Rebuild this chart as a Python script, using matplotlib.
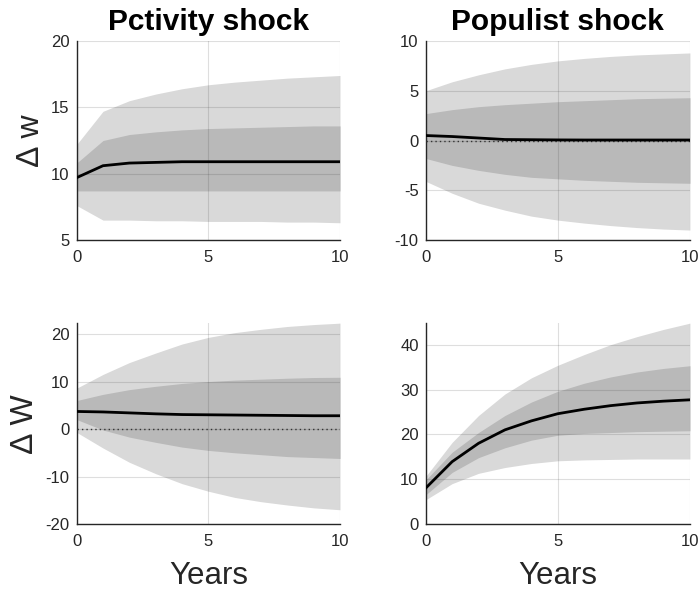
import matplotlib
matplotlib.use("Agg")
from matplotlib import pyplot as plt
import numpy as np

plt.rcParams['font.family'] = ['Liberation Sans', 'DejaVu Sans']
plt.rcParams['axes.unicode_minus'] = False

# horizon in years
years = np.arange(0, 11)

# productivity shock -> delta w
tl_med = [9.7, 10.6, 10.8, 10.85, 10.9, 10.9, 10.9, 10.9, 10.9, 10.9, 10.9]
tl_in_lo = [8.7, 8.7, 8.7, 8.7, 8.7, 8.7, 8.7, 8.7, 8.7, 8.7, 8.7]
tl_in_hi = [10.8, 12.5, 12.95, 13.15, 13.3, 13.4, 13.45, 13.5, 13.55, 13.6, 13.6]
tl_out_lo = [7.6, 6.5, 6.5, 6.45, 6.45, 6.4, 6.4, 6.4, 6.35, 6.35, 6.3]
tl_out_hi = [12.2, 14.7, 15.5, 16.0, 16.4, 16.7, 16.9, 17.05, 17.2, 17.3, 17.4]

# populist shock -> delta w
tr_med = [0.5, 0.4, 0.25, 0.1, 0.08, 0.06, 0.05, 0.05, 0.05, 0.05, 0.05]
tr_in_lo = [-1.8, -2.5, -3.0, -3.4, -3.7, -3.85, -4.0, -4.1, -4.2, -4.25, -4.3]
tr_in_hi = [2.7, 3.1, 3.4, 3.6, 3.75, 3.9, 4.0, 4.1, 4.2, 4.25, 4.3]
tr_out_lo = [-4.1, -5.3, -6.3, -7.0, -7.6, -8.0, -8.3, -8.55, -8.75, -8.9, -9.0]
tr_out_hi = [5.0, 5.9, 6.6, 7.2, 7.65, 8.0, 8.25, 8.45, 8.6, 8.7, 8.8]

# productivity shock -> delta W
bl_med = [3.7, 3.6, 3.4, 3.2, 3.05, 3.0, 2.95, 2.9, 2.85, 2.8, 2.8]
bl_in_lo = [2.0, -0.2, -1.7, -2.8, -3.8, -4.5, -5.0, -5.4, -5.8, -6.0, -6.2]
bl_in_hi = [6.0, 7.3, 8.3, 9.0, 9.6, 10.0, 10.3, 10.5, 10.7, 10.85, 10.9]
bl_out_lo = [-0.7, -4.0, -7.0, -9.4, -11.5, -13.1, -14.4, -15.3, -16.0, -16.6, -17.0]
bl_out_hi = [8.6, 11.5, 14.0, 16.0, 17.9, 19.3, 20.3, 21.0, 21.6, 22.0, 22.3]

# populist shock -> delta W
br_med = [8.0, 13.9, 18.0, 21.0, 23.0, 24.6, 25.6, 26.4, 27.0, 27.4, 27.7]
br_in_lo = [6.5, 11.5, 14.8, 17.0, 18.7, 19.8, 20.2, 20.4, 20.6, 20.7, 20.8]
br_in_hi = [9.8, 16.0, 20.4, 24.2, 27.2, 29.6, 31.4, 32.8, 33.9, 34.7, 35.3]
br_out_lo = [5.4, 9.0, 11.3, 12.6, 13.5, 14.1, 14.3, 14.4, 14.5, 14.5, 14.5]
br_out_hi = [10.6, 18.2, 24.2, 29.0, 32.6, 35.4, 37.8, 40.0, 41.8, 43.4, 44.8]

titles = ["Pctivity shock", "Populist shock"]
ylabels = ["\u2206 w", "\u2206 W"]

panels = [
    (tl_med, tl_in_lo, tl_in_hi, tl_out_lo, tl_out_hi, (5, 20), [5, 10, 15, 20], False),
    (tr_med, tr_in_lo, tr_in_hi, tr_out_lo, tr_out_hi, (-10, 10), [-10, -5, 0, 5, 10], True),
    (bl_med, bl_in_lo, bl_in_hi, bl_out_lo, bl_out_hi, (-20, 22.3), [-20, -10, 0, 10, 20], True),
    (br_med, br_in_lo, br_in_hi, br_out_lo, br_out_hi, (0, 44.8), [0, 10, 20, 30, 40], False),
]

positions = [
    [0.1097, 0.5973, 0.3767, 0.3339],
    [0.609, 0.5973, 0.378, 0.3339],
    [0.1097, 0.1208, 0.3767, 0.337],
    [0.609, 0.1208, 0.378, 0.337],
]

fig = plt.figure(figsize=(6.99, 5.96), dpi=100)

for i, (med, ilo, ihi, olo, ohi, ylim, yt, zero) in enumerate(panels):
    ax = fig.add_axes(positions[i])
    ax.fill_between(years, olo, ohi, color="#d9d9d9", linewidth=0, zorder=1)
    ax.fill_between(years, ilo, ihi, color="#b9b9b9", linewidth=0, zorder=2)
    if zero:
        ax.axhline(0, color="#333333", linestyle=(0, (1, 2.2)), linewidth=1, zorder=3)
    ax.plot(years, med, color="black", linewidth=2, zorder=4)
    ax.set_xlim(0, 10)
    ax.set_ylim(*ylim)
    ax.set_xticks([0, 5, 10])
    ax.set_yticks(yt)
    ax.grid(True, color="#262626", alpha=0.15, linewidth=0.8, zorder=5)
    ax.set_axisbelow(False)
    for side in ("top", "right"):
        ax.spines[side].set_visible(False)
    for side in ("left", "bottom"):
        ax.spines[side].set_color("#262626")
        ax.spines[side].set_linewidth(1.0)
    ax.tick_params(length=0, labelsize=12, colors="#262626")
    ax.tick_params(axis="x", pad=7)
    ax.tick_params(axis="y", pad=5)
    if i < 2:
        ax.set_title(titles[i], fontsize=21.5, fontweight="bold", pad=8)
    else:
        ax.set_xlabel("Years", fontsize=22.5, color="#262626", labelpad=9)
    if i % 2 == 0:
        ax.set_ylabel(ylabels[i // 2], fontsize=23, color="#262626", labelpad=4)

fig.savefig("out.png", dpi=100)
